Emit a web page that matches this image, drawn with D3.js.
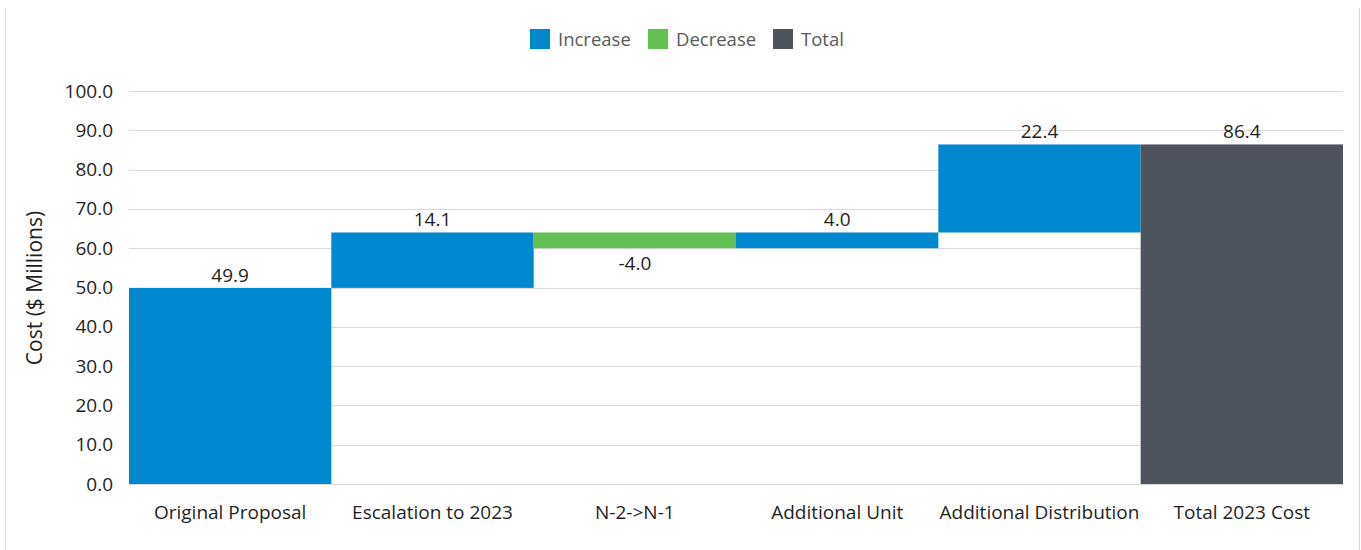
<!DOCTYPE html>
<html><head><meta charset="utf-8">
<script src="https://cdn.jsdelivr.net/npm/d3@7/dist/d3.min.js"></script>
<style>body{margin:0;background:#fff;} text{font-family:"Open Sans",sans-serif;}</style>
</head><body><svg id="c" width="1361" height="550"></svg>
<script>
const categories = ["Original Proposal","Escalation to 2023","N-2->N-1","Additional Unit","Additional Distribution","Total 2023 Cost"];
const values = [49.9, 14.1, -4.0, 4.0, 22.4, 86.4];
const kinds = ["increase","increase","decrease","increase","increase","total"];
const yTicks = [0,10,20,30,40,50,60,70,80,90,100];
const legendItems = [["Increase","increase"],["Decrease","decrease"],["Total","total"]];
const colors = {increase:"#0088CE", decrease:"#62C152", total:"#4D545E"};

const fmt = v => d3.format(".1f")(v).replace("\u2212","-");
const svg = d3.select("#c");
const m = {l:129, r:1343, t:91, b:484};
const x = d3.scaleBand().domain(categories).range([m.l, m.r]).padding(0);
const y = d3.scaleLinear().domain([0,100]).range([m.b, m.t]);
const txt = "#1f1f1f";

svg.append("line").attr("x1",5.5).attr("x2",5.5).attr("y1",8).attr("y2",550).attr("stroke","#d9d9d9");
svg.append("line").attr("x1",1359.5).attr("x2",1359.5).attr("y1",8).attr("y2",550).attr("stroke","#d9d9d9");

svg.append("g").selectAll("line").data(yTicks).join("line")
  .attr("x1",m.l).attr("x2",m.r).attr("y1",d=>Math.round(y(d))+0.5).attr("y2",d=>Math.round(y(d))+0.5)
  .attr("stroke","#d9d9d9").attr("stroke-width",1);

const ya = svg.append("g").attr("transform",`translate(${m.l},0)`)
  .call(d3.axisLeft(y).tickValues(yTicks).tickFormat(fmt).tickSize(0).tickPadding(16));
ya.select(".domain").remove();
ya.selectAll("text").attr("font-size",19).attr("fill",txt).attr("font-family","'Open Sans',sans-serif");

let run = 0;
const bars = categories.map((c,i)=>{
  let lo, hi;
  if (kinds[i]==="total") { lo=0; hi=values[i]; run=values[i]; }
  else { const s=run; run=run+values[i]; lo=Math.min(s,run); hi=Math.max(s,run); }
  return {c, v:values[i], k:kinds[i], lo, hi};
});
svg.append("g").selectAll("rect").data(bars).join("rect")
  .attr("x",d=>x(d.c)).attr("width",x.bandwidth())
  .attr("y",d=>y(d.hi)).attr("height",d=>y(d.lo)-y(d.hi))
  .attr("fill",d=>colors[d.k]);

svg.append("g").selectAll("text").data(bars).join("text")
  .attr("x",d=>x(d.c)+x.bandwidth()/2)
  .attr("y",d=>d.k==="decrease" ? y(d.lo)+22 : y(d.hi)-6)
  .attr("text-anchor","middle").attr("font-size",19).attr("fill",txt)
  .text(d=>fmt(d.v));

svg.append("line").attr("x1",m.l).attr("x2",m.r).attr("y1",m.b+0.5).attr("y2",m.b+0.5).attr("stroke","#d9d9d9");

const xa = svg.append("g").attr("transform",`translate(0,${m.b})`)
  .call(d3.axisBottom(x).tickSize(0).tickPadding(22));
xa.select(".domain").remove();
xa.selectAll("text").attr("font-size",19).attr("fill",txt).attr("font-family","'Open Sans',sans-serif");

svg.append("text").attr("transform","translate(42,288) rotate(-90)")
  .attr("text-anchor","middle").attr("font-size",21).attr("fill",txt).text("Cost ($ Millions)");

const lx = [530, 648, 773];
const lg = svg.append("g").selectAll("g").data(legendItems).join("g")
  .attr("transform",(d,i)=>`translate(${lx[i]},29)`);
lg.append("rect").attr("width",20).attr("height",20).attr("fill",d=>colors[d[1]]);
lg.append("text").attr("x",28).attr("y",16.5).attr("font-size",18.5).attr("fill","#595959").text(d=>d[0]);
</script></body></html>
